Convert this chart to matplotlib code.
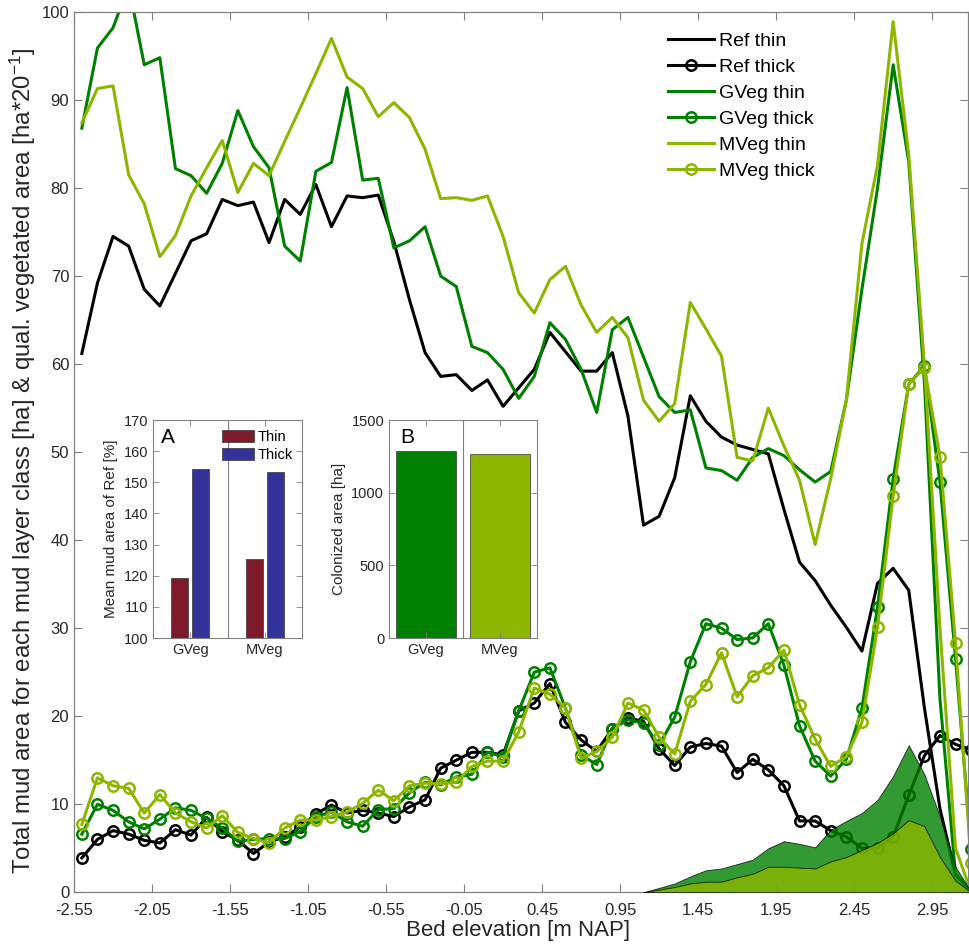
import numpy as np
import matplotlib
matplotlib.use('Agg')
import matplotlib.pyplot as plt

plt.rcParams['font.family'] = ['Liberation Sans', 'DejaVu Sans']
plt.rcParams['mathtext.default'] = 'regular'
plt.rcParams['axes.unicode_minus'] = False

# bed elevation bin centres [m NAP]
elev = np.round(np.arange(-2.5, 3.25, 0.1), 2)

ref_thin = [61.2, 69.2, 74.5, 73.4, 68.5, 66.6, 70.3, 74.0, 74.8, 78.7,
            78.0, 78.4, 73.8, 78.7, 77.0, 80.4, 75.6, 79.1, 78.9, 79.2,
            73.9, 67.3, 61.3, 58.6, 58.8, 57.0, 58.2, 55.2, 57.3, 59.4,
            63.6, 61.4, 59.2, 59.2, 61.3, 54.1, 41.7, 42.7, 47.1, 56.4,
            53.5, 51.7, 50.8, 50.3, 49.8, 43.5, 37.5, 35.4, 32.6, 30.1,
            27.4, 35.1, 36.8, 34.3, 21.0, 9.5, 2.0, 0.3]
ref_thick = [3.9, 6.0, 7.0, 6.6, 5.9, 5.6, 7.1, 6.5, 8.5, 6.9,
             5.9, 4.4, 5.7, 6.3, 7.4, 8.9, 9.9, 9.0, 9.3, 9.0,
             8.6, 9.7, 10.5, 14.1, 15.0, 15.9, 15.9, 15.6, 20.6, 21.5,
             23.7, 19.3, 17.3, 16.0, 18.6, 19.8, 19.4, 16.3, 14.4, 16.5,
             16.9, 16.6, 13.6, 15.1, 13.9, 12.1, 8.1, 8.1, 7.0, 6.3,
             5.0, 5.0, 6.3, 11.0, 15.5, 17.8, 16.8, 16.2]
gveg_thin = [86.8, 95.9, 98.2, 103.0, 94.0, 94.8, 82.2, 81.4, 79.4, 82.8,
             88.8, 84.7, 82.3, 73.4, 71.7, 81.9, 82.9, 91.4, 80.9, 81.1,
             73.2, 74.0, 75.6, 70.0, 68.8, 62.0, 61.3, 59.4, 56.1, 58.6,
             64.7, 62.8, 59.4, 54.5, 63.9, 65.3, 60.8, 56.3, 54.5, 54.8,
             48.2, 47.9, 46.8, 49.4, 50.4, 49.6, 48.0, 46.6, 47.8, 55.9,
             68.5, 80.0, 94.0, 83.0, 58.0, 22.0, 2.0, 0.0]
gveg_thick = [6.6, 10.0, 9.3, 8.0, 7.2, 8.3, 9.6, 9.3, 8.4, 7.3,
              5.8, 6.0, 6.1, 6.1, 6.9, 8.6, 9.1, 8.0, 7.5, 9.4,
              9.5, 11.3, 12.5, 12.2, 13.1, 13.4, 15.9, 15.4, 20.6, 25.0,
              25.5, 20.9, 15.6, 14.5, 18.6, 19.6, 19.2, 16.7, 19.9, 26.2,
              30.5, 30.0, 28.7, 28.9, 30.5, 25.8, 18.9, 14.9, 13.2, 15.1,
              20.9, 32.4, 47.0, 57.7, 59.8, 46.6, 26.5, 4.9]
mveg_thin = [87.4, 91.3, 91.6, 81.5, 78.2, 72.2, 74.6, 79.1, 82.3, 85.4,
             79.5, 82.8, 81.4, 85.3, 89.1, 93.0, 97.0, 92.6, 91.3, 88.1,
             89.7, 88.0, 84.4, 78.8, 78.9, 78.6, 79.1, 74.5, 68.1, 65.8,
             69.6, 71.1, 66.7, 63.6, 65.3, 63.0, 55.9, 53.5, 55.5, 67.0,
             64.0, 60.9, 49.4, 49.0, 55.0, 50.7, 46.8, 39.5, 47.0, 55.9,
             73.7, 82.6, 98.9, 83.8, 60.0, 30.0, 5.0, 0.0]
mveg_thick = [7.7, 13.0, 12.1, 11.8, 9.0, 11.1, 9.0, 8.0, 7.3, 8.7,
              6.8, 6.1, 5.6, 7.3, 8.2, 8.2, 8.6, 9.1, 10.1, 11.6,
              10.4, 12.1, 12.4, 12.3, 12.5, 14.3, 14.9, 14.9, 18.2, 23.2,
              22.5, 20.9, 15.2, 16.0, 17.6, 21.5, 20.7, 17.6, 15.7, 21.7,
              23.6, 27.2, 22.2, 24.6, 25.5, 27.5, 21.3, 17.4, 14.3, 15.4,
              19.3, 30.1, 45.0, 57.7, 59.6, 49.5, 28.3, 3.3]

# qualitative vegetated area [ha*20^-1], from 1.1 m NAP upwards
veg_elev = elev[36:]
gveg_area = [0.0, 0.5, 1.0, 1.8, 2.5, 2.7, 3.2, 3.7, 5.0, 5.8, 5.5,
             5.1, 7.1, 8.1, 9.0, 10.5, 13.2, 16.7, 13.4, 8.6, 2.9, 0.0]
mveg_area = [0.0, 0.3, 0.6, 1.0, 1.2, 1.2, 1.7, 2.1, 2.9, 2.9, 2.8,
             2.7, 3.5, 4.0, 4.8, 5.6, 6.7, 8.2, 7.5, 4.0, 1.3, 0.0]

# insets
groups = ['GVeg', 'MVeg']
mud_thin_pct = [119.2, 125.3]
mud_thick_pct = [154.2, 153.2]
colonized = [1289, 1264]

gcol = '#008000'
mcol = '#8db600'
spine_col = '#808080'
txt_col = '#262626'

fig = plt.figure(figsize=(9.69, 9.48), dpi=100)
ax = fig.add_axes([0.0764, 0.0588, 0.9226, 0.9286])

lw = 2.2
mk = dict(marker='o', ms=7.5, mfc='none', mew=1.8)
ax.plot(elev, ref_thin, color='k', lw=lw, label='Ref thin')
ax.plot(elev, ref_thick, color='k', lw=lw, label='Ref thick', **mk)
ax.plot(elev, gveg_thin, color=gcol, lw=lw, label='GVeg thin')
ax.plot(elev, gveg_thick, color=gcol, lw=lw, label='GVeg thick', **mk)
ax.plot(elev, mveg_thin, color=mcol, lw=lw, label='MVeg thin')
ax.plot(elev, mveg_thick, color=mcol, lw=lw, label='MVeg thick', **mk)

ax.fill_between(veg_elev, gveg_area, facecolor=gcol, edgecolor='k',
                alpha=0.8, lw=0.6, zorder=5)
ax.fill_between(veg_elev, mveg_area, facecolor=mcol, edgecolor='k',
                alpha=0.8, lw=0.6, zorder=6)

ax.set_xlim(-2.55, 3.18)
ax.set_ylim(0, 100)
xt = np.round(np.arange(-2.55, 3.0, 0.5), 2)
ax.set_xticks(xt, ['%.2f' % v for v in xt])
ax.set_yticks(range(0, 101, 10))
ax.tick_params(direction='in', top=True, right=True, length=6, width=0.8,
               color=spine_col, labelsize=12, labelcolor=txt_col)
ax.tick_params(axis='x', pad=8)
for s in ax.spines.values():
    s.set_color(spine_col)
    s.set_linewidth(0.9)

ax.set_xlabel('Bed elevation [m NAP]', fontsize=16, color=txt_col, va='center')
ax.xaxis.set_label_coords(0.497, -0.043)
ax.set_ylabel('Total mud area for each mud layer class [ha] & qual. vegetated area [ha*20$^{-1}$]',
              fontsize=17.3, color=txt_col, va='center')
ax.yaxis.set_label_coords(-0.057, 0.49)

ax.legend(loc='upper left', bbox_to_anchor=(0.664, 0.977), frameon=False,
          fontsize=14, handlelength=2.4, handletextpad=0.25, labelspacing=0.43,
          borderaxespad=0, borderpad=0, numpoints=1)


def style_inset(a):
    a.tick_params(direction='in', top=True, right=True, length=4, width=0.6,
                  color=spine_col, labelsize=10.5, labelcolor=txt_col)
    for s in a.spines.values():
        s.set_color(spine_col)
        s.set_linewidth(0.8)
    a.axvline(1.5, color=spine_col, lw=0.8)
    a.set_xlim(0.5, 2.5)


pos = np.arange(1, 3)

# inset A
axA = fig.add_axes([153 / 969, 310 / 948, 149 / 969, 218 / 948])
axA.bar(pos - 0.14, mud_thin_pct, width=0.23, color='#7f1a2a',
        edgecolor='#333333', lw=0.5, label='Thin')
axA.bar(pos + 0.14, mud_thick_pct, width=0.23, color='#333399',
        edgecolor='#333333', lw=0.5, label='Thick')
style_inset(axA)
axA.set_ylim(100, 170)
axA.set_yticks(range(100, 171, 10))
axA.set_xticks(pos, groups)
axA.set_ylabel('Mean mud area of Ref [%]', fontsize=11, color=txt_col)
axA.text(0.055, 0.92, 'A', transform=axA.transAxes, fontsize=15,
         va='center', ha='left', color='k')
axA.legend(loc='upper left', bbox_to_anchor=(0.46, 0.955), frameon=False,
           fontsize=10.5, handlelength=2.2, handleheight=0.95,
           handletextpad=0.3, labelspacing=0.25, borderaxespad=0, borderpad=0)

# inset B
axB = fig.add_axes([389 / 969, 310 / 948, 148 / 969, 218 / 948])
axB.bar(pos, colonized, width=0.8, color=['#007f00', mcol],
        edgecolor='#333333', lw=0.5)
style_inset(axB)
axB.set_ylim(0, 1500)
axB.set_yticks([0, 500, 1000, 1500])
axB.set_xticks(pos, groups)
axB.set_ylabel('Colonized area [ha]', fontsize=11, color=txt_col)
axB.text(0.075, 0.92, 'B', transform=axB.transAxes, fontsize=15,
         va='center', ha='left', color='k')

fig.savefig('out.png', dpi=100)
